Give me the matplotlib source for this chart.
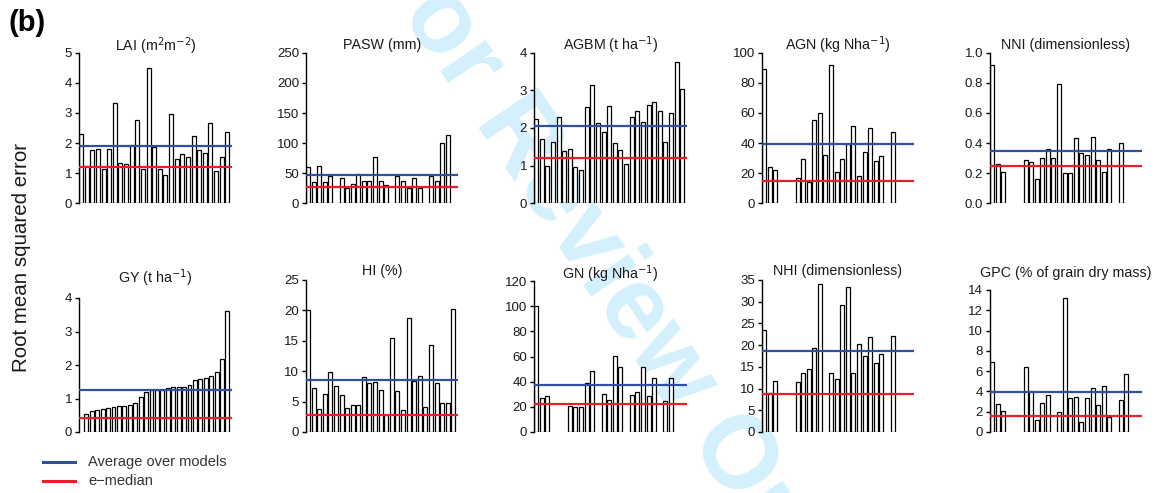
import numpy as np
import matplotlib
matplotlib.use("Agg")
import matplotlib.pyplot as plt

plt.rcParams['font.family'] = ['Liberation Sans', 'DejaVu Sans']

nan = np.nan

# ---------------- data ----------------
titles = ["LAI (m$^{2}$m$^{-2}$)", "PASW (mm)", "AGBM (t ha$^{-1}$)", "AGN (kg Nha$^{-1}$)",
          "NNI (dimensionless)", "GY (t ha$^{-1}$)", "HI (%)", "GN (kg Nha$^{-1}$)",
          "NHI (dimensionless)", "GPC (% of grain dry mass)"]

lai = [2.3, 1.22, 1.75, 1.8, 1.12, 1.8, 3.33, 1.32, 1.3, 1.93, 2.78, 1.12, 4.5, 1.88,
       1.12, 0.92, 2.98, 1.45, 1.62, 1.53, 2.22, 1.75, 1.68, 2.68, 1.05, 1.52, 2.37]
pasw = [60, 35, 62, 35, 45, nan, 42, 25, 31, 49, 37, 37, 77, 37, 30, nan, 45, 37, 25, 41,
        25, nan, 45, 36, 100, 113, nan]
agbm = [2.25, 1.7, 1.0, 1.63, 2.28, 1.4, 1.43, 0.97, 0.87, 2.57, 3.15, 2.13, 1.9, 2.58,
        1.6, 1.42, 1.05, 2.3, 2.45, 2.17, 2.6, 2.7, 2.45, 1.63, 2.4, 3.75, 3.05]
agn = [89, 24, 22, nan, nan, nan, 17, 29, 14, 55, 60, 32, 92, 21, 29, 39, 51, 18, 34, 50,
       28, 31, nan, 47, nan, nan, nan]
nni = [0.92, 0.26, 0.21, nan, nan, nan, 0.29, 0.27, 0.16, 0.30, 0.36, 0.30, 0.79, 0.20,
       0.20, 0.43, 0.33, 0.32, 0.44, 0.29, 0.21, 0.36, nan, 0.40, nan, nan, nan]
gy = [nan, 0.55, 0.62, 0.65, 0.68, 0.72, 0.75, 0.77, 0.78, 0.80, 0.87, 1.05, 1.20, 1.25,
      1.25, 1.25, 1.32, 1.33, 1.33, 1.35, 1.40, 1.55, 1.57, 1.60, 1.68, 1.80, 2.17, 3.62]
hi = [20, 7.2, 3.8, 6.3, 9.8, 7.6, 6.1, 4.0, 4.5, 4.5, 9.1, 8.0, 8.3, 6.9, 2.8, 15.5, 6.8,
      3.7, 18.8, 8.4, 9.2, 4.1, 14.3, 8.0, 4.8, 4.8, 20.3]
gn = [100, 27, 28.5, nan, nan, nan, 21, 20, 19.5, 39, 48.5, nan, 30.5, 25.5, 60.5, 51.5,
      nan, 29.5, 32, 52, 29, 43, nan, 25, 43, nan, nan]
nhi = [23.5, 9, 11.7, nan, nan, nan, 11.5, 13.6, 14.4, 19.3, 34, nan, 13.5, 12.2, 29.2,
       33.5, 13.5, 20.2, 17.5, 21.8, 15.8, 18, nan, 22, nan, nan, nan]
gpc = [6.9, 2.75, 2.1, nan, nan, nan, 6.4, 4.0, 1.2, 2.9, 3.6, nan, 2.0, 13.2, 3.4, 3.5,
       1.0, 3.4, 4.3, 2.7, 4.5, 1.5, nan, 3.2, 5.7, nan, nan]

series = [lai, pasw, agbm, agn, nni, gy, hi, gn, nhi, gpc]
avg_models = [1.9, 46, 2.05, 39, 0.35, 1.25, 8.5, 37.5, 18.7, 3.9]
e_median = [1.2, 26, 1.2, 14.5, 0.25, 0.42, 2.8, 22, 8.8, 1.6]
yticks = [np.arange(0, 6, 1), np.arange(0, 251, 50), np.arange(0, 5, 1), np.arange(0, 101, 20),
          np.arange(0, 1.01, 0.2), np.arange(0, 5, 1), np.arange(0, 26, 5), np.arange(0, 121, 20),
          np.arange(0, 36, 5), np.arange(0, 15, 2)]

# ---------------- layout (pixels) ----------------
W, H = 1162, 493
fig = plt.figure(figsize=(W / 100, H / 100), dpi=100)

# watermark (behind the panels)
fig.text(612 / W, 1 - 280 / H, "For Review Only", rotation=-56, color="#d3f0fc",
         fontsize=74, fontweight="bold", ha="center", va="center", zorder=-5)

cols = [(79, 232), (306, 458), (534, 687), (762, 914), (990, 1142)]
tops = [53, 53, 53, 53, 53, 298, 280, 281, 280, 290]
bottoms = [203] * 5 + [432] * 5
title_y = [46, 45, 45, 45, 45, 278, 271, 274, 271, 273]

blue = "#2f4f9f"
red = "#e5202a"

for i, vals in enumerate(series):
    x0, x1 = cols[i % 5]
    top, bot = tops[i], bottoms[i]
    ax = fig.add_axes([x0 / W, 1 - bot / H, (x1 - x0) / W, (bot - top) / H])
    ax.set_zorder(2)
    ax.patch.set_alpha(0)
    n = len(vals)
    xs = np.arange(n)
    ax.bar(xs, vals, width=0.72, align="edge", color="white", edgecolor="black",
           linewidth=0.9, zorder=2)
    ax.axhline(avg_models[i], color=blue, lw=1.6, zorder=3)
    ax.axhline(e_median[i], color=red, lw=1.6, zorder=3)
    ax.set_xlim(0, n + 0.2)
    yt = yticks[i]
    ax.set_ylim(0, yt[-1])
    ax.set_yticks(yt)
    if i == 4:
        ax.set_yticklabels([f"{v:.1f}" for v in yt])
    else:
        ax.set_yticklabels([f"{int(round(v))}" for v in yt])
    ax.set_xticks([])
    for s in ["top", "right", "bottom"]:
        ax.spines[s].set_visible(False)
    ax.spines["left"].set_linewidth(1.0)
    ax.tick_params(axis="y", direction="out", length=3, width=1.0, labelsize=9.5,
                   pad=2, labelcolor="#1a1a1a")
    fig.text((x0 + x1) / 2 / W, 1 - title_y[i] / H, titles[i], ha="center", va="center",
             fontsize=10.3, color="#1a1a1a", zorder=3)

fig.text(9 / W, 1 - 23 / H, "(b)", fontsize=21, fontweight="bold", ha="left", va="center",
         zorder=3)
fig.text(22 / W, 1 - 257 / H, "Root mean squared error", rotation=90, fontsize=14.8,
         ha="center", va="center", color="#1a1a1a", zorder=3)

# legend
for yy, col, lab in [(462, blue, "Average over models"), (481, red, "e\u2212median")]:
    fig.add_artist(plt.Line2D([43 / W, 75 / W], [1 - yy / H, 1 - yy / H], color=col, lw=2.2,
                              zorder=3))
    fig.text(88 / W, 1 - yy / H, lab, fontsize=10.5, ha="left", va="center", color="#333333",
             zorder=3)

fig.savefig("out.png", dpi=100)
